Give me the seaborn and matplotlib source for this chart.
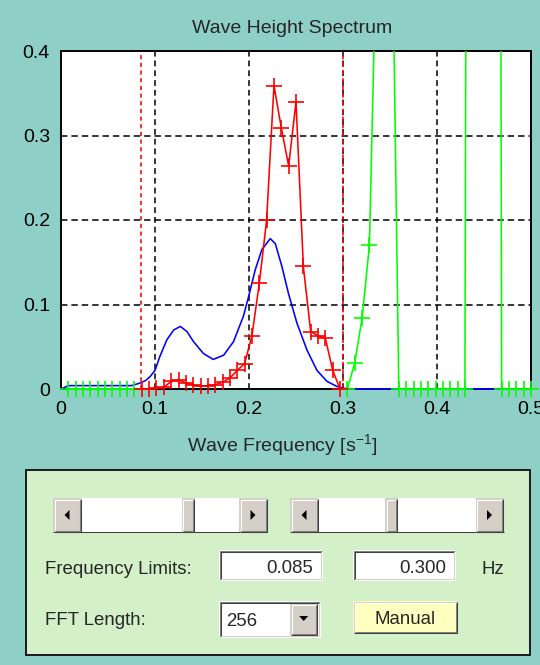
import numpy as np
import matplotlib
matplotlib.use("Agg")
import matplotlib.pyplot as plt
from matplotlib.patches import Rectangle, Polygon
import seaborn as sns

# ---------------------------------------------------------------- data ----
BIN_WIDTH = 1.0 / 128            # Hz per FFT bin
FFT_LENGTH = 256
FREQ_LIMITS = [0.085, 0.300]     # analysis band [Hz]

# smoothed spectrum (blue)
smooth_freq = [0.000, 0.008, 0.020, 0.040, 0.060, 0.075, 0.084, 0.090, 0.095,
               0.100, 0.105, 0.1125, 0.120, 0.127, 0.134, 0.141, 0.1515, 0.162,
               0.173, 0.1835, 0.194, 0.1995, 0.2066, 0.2137, 0.2226, 0.228,
               0.235, 0.242, 0.251, 0.2617, 0.2723, 0.283, 0.2936, 0.300,
               0.310, 0.500]
smooth_val = [0.000, 0.004, 0.004, 0.004, 0.004, 0.004, 0.007, 0.010, 0.015,
              0.022, 0.038, 0.058, 0.070, 0.074, 0.068, 0.056, 0.042, 0.035,
              0.040, 0.056, 0.086, 0.109, 0.141, 0.165, 0.178, 0.172,
              0.145, 0.113, 0.078, 0.046, 0.022, 0.009, 0.003, 0.001,
              0.000, 0.000]

# raw FFT bins below the band (green)
low_bins = list(range(1, 11))
low_val = [0.000, 0.000, 0.000, 0.000, 0.000, 0.000, 0.000, 0.000, 0.000, 0.000]

# raw FFT bins inside the band (red)
band_bins = list(range(11, 39))
band_val = [0.000, 0.000, 0.001, 0.002, 0.009, 0.011, 0.007, 0.005, 0.003,
            0.004, 0.005, 0.008, 0.013, 0.022, 0.030, 0.063, 0.125, 0.200,
            0.359, 0.309, 0.264, 0.340, 0.145, 0.068, 0.063, 0.060, 0.022,
            0.000]

# raw FFT bins above the band (green)
high_bins = list(range(39, 65))
high_val = [0.000, 0.031, 0.084, 0.170, 0.550, 0.950, 0.620, 0.000, 0.000,
            0.000, 0.000, 0.000, 0.000, 0.000, 0.000, 0.000, 0.000, 3.500,
            7.000, 6.000, 4.500, 0.000, 0.000, 0.000, 0.000, 0.000]

x_ticks = [0.0, 0.1, 0.2, 0.3, 0.4, 0.5]
x_tick_labels = ["0", "0.1", "0.2", "0.3", "0.4", "0.5"]
y_ticks = [0.0, 0.1, 0.2, 0.3, 0.4]
y_tick_labels = ["0", "0.1", "0.2", "0.3", "0.4"]

# -------------------------------------------------------------- style ----
TEAL = "#8ECFC8"
PANEL = "#D4F0C8"
BTN = "#D4D0C8"

sns.set_style("white")
plt.rcParams["font.family"] = ["Liberation Sans", "DejaVu Sans"]
plt.rcParams["mathtext.fontset"] = "custom"
plt.rcParams["mathtext.rm"] = "Liberation Sans"
plt.rcParams["mathtext.default"] = "regular"

fig = plt.figure(figsize=(5.4, 6.65), dpi=100, facecolor=TEAL)
W, H = 540, 665
ax = fig.add_axes([61 / W, 1 - 389 / H, 470 / W, 338 / H])
ax.set_facecolor("white")
ax.set_xlim(0, 0.5)
ax.set_ylim(0, 0.4)

# grid and band limits
for f in x_ticks[1:5]:
    ax.axvline(f, color="black", lw=1.1, ls=(0, (3.8, 2.6)), zorder=1)
for v in y_ticks[1:4]:
    ax.axhline(v, color="black", lw=1.1, ls=(0, (4.2, 2.6)), zorder=1)
for f in FREQ_LIMITS:
    ax.axvline(f, color="#FF0000", lw=1.15, ls=(0, (2.6, 2.2)), zorder=2)


def spectrum_line(freq, val, color, z):
    sns.lineplot(x=freq, y=val, color=color, lw=1.15, ax=ax, zorder=z,
                 sort=False, estimator=None)
    line = ax.lines[-1]
    clip = Rectangle((-0.01, -0.03), 0.52, 0.43, transform=ax.transData)
    line.set_clip_path(clip)


def bin_markers(freq, val, color):
    freq = np.asarray(freq)
    val = np.asarray(val)
    keep = val <= 0.4
    sns.lineplot(x=freq[keep], y=val[keep], color=color, linestyle="",
                 marker="+", markersize=11.5, markeredgewidth=1.2,
                 markeredgecolor=color, markerfacecolor=color, ax=ax,
                 zorder=6, sort=False, estimator=None, clip_on=False)


low_freq = np.array(low_bins) * BIN_WIDTH
band_freq = np.array(band_bins) * BIN_WIDTH
high_freq = np.array(high_bins) * BIN_WIDTH

spectrum_line(low_freq, low_val, "#00FF00", 3)
spectrum_line(high_freq, high_val, "#00FF00", 3)
spectrum_line(smooth_freq, smooth_val, "#0000FF", 3.5)
spectrum_line(band_freq, band_val, "#FF0000", 4)
bin_markers(low_freq, low_val, "#00FF00")
bin_markers(high_freq, high_val, "#00FF00")
bin_markers(band_freq, band_val, "#FF0000")

ax.set_xticks(x_ticks)
ax.set_xticklabels(x_tick_labels)
ax.set_yticks(y_ticks)
ax.set_yticklabels(y_tick_labels)
ax.tick_params(axis="both", length=0, labelsize=14, colors="black")
ax.tick_params(axis="x", pad=8.5)
ax.tick_params(axis="y", pad=8)
for sp in ax.spines.values():
    sp.set_visible(True)
    sp.set_color("black")
    sp.set_linewidth(1.4)
    sp.set_zorder(2.5)

ax.set_title("Wave Height Spectrum", fontsize=14, pad=12.7)
ax.title.set_x(0.491)
ax.set_xlabel("Wave Frequency [s$^{-1}$]", fontsize=14)
ax.xaxis.set_label_coords(0.471, -0.128)

# ------------------------------------------------------- control panel ----
ui = fig.add_axes([0, 0, 1, 1], zorder=-1)
ui.set_xlim(0, W)
ui.set_ylim(H, 0)
ui.axis("off")
PX = 0.72  # one pixel in points


def box(x0, y0, x1, y1, fc, ec="none", lw=0.0):
    ui.add_patch(Rectangle((x0, y0), x1 - x0, y1 - y0, facecolor=fc,
                           edgecolor=ec, linewidth=lw))


def seg(xs, ys, c):
    ui.plot(xs, ys, color=c, lw=PX * 1.05, solid_capstyle="butt")


def bevel(x0, y0, x1, y1, raised=True):
    if raised:
        tl_out, tl_in, br_in, br_out = BTN, "#FFFFFF", "#808080", "#404040"
    else:
        tl_out, tl_in, br_in, br_out = "#808080", "#404040", BTN, "#FFFFFF"
    seg([x0 + .5, x0 + .5, x1 - .5], [y1 - .5, y0 + .5, y0 + .5], tl_out)
    seg([x0 + .5, x1 - .5, x1 - .5], [y1 - .5, y1 - .5, y0 + .5], br_out)
    seg([x0 + 1.5, x0 + 1.5, x1 - 1.5], [y1 - 1.5, y0 + 1.5, y0 + 1.5], tl_in)
    seg([x0 + 1.5, x1 - 1.5, x1 - 1.5], [y1 - 1.5, y1 - 1.5, y0 + 1.5], br_in)


def button(x0, y0, x1, y1, face=BTN):
    box(x0, y0, x1, y1, face)
    bevel(x0, y0, x1, y1, raised=True)


def triangle(cx, cy, direction):
    if direction == "left":
        pts = [(cx + 2.5, cy - 5), (cx + 2.5, cy + 5), (cx - 2.5, cy)]
    elif direction == "right":
        pts = [(cx - 2.5, cy - 5), (cx - 2.5, cy + 5), (cx + 2.5, cy)]
    else:
        pts = [(cx - 4.5, cy - 2.5), (cx + 4.5, cy - 2.5), (cx, cy + 2.5)]
    ui.add_patch(Polygon(pts, closed=True, facecolor="black", edgecolor="none"))


def scrollbar(x0, x1, y0, y1, t0, t1):
    box(x0, y0, x1, y1, "white")
    seg([x0, x1], [y1 - .5, y1 - .5], "#404040")
    button(x0, y0, x0 + 28, y1)
    triangle(x0 + 14, (y0 + y1) / 2, "left")
    button(x1 - 28, y0, x1, y1)
    triangle(x1 - 14, (y0 + y1) / 2, "right")
    button(t0, y0, t1, y1)


def field(x0, y0, x1, y1, text):
    box(x0, y0, x1, y1, "white")
    bevel(x0, y0, x1, y1, raised=False)
    ui.text(x1 - 9, y0 + 23, text, fontsize=13.4, ha="right", va="baseline")


box(26, 470, 530, 655, PANEL, ec="#1A1A1A", lw=1.4)

scrollbar(53, 267, 498, 532, 181.5, 194.5)
scrollbar(290, 503.5, 498, 532, 385, 397.5)

ui.text(45, 573.5, "Frequency Limits:", fontsize=13.4, ha="left", va="baseline")
field(219, 550, 322, 580, f"{FREQ_LIMITS[0]:.3f}")
field(353, 550, 455, 580, f"{FREQ_LIMITS[1]:.3f}")
ui.text(481.5, 573.5, "Hz", fontsize=13.4, ha="left", va="baseline")

ui.text(45, 625, "FFT Length:", fontsize=13.4, ha="left", va="baseline")
box(219, 601, 320, 637, "white")
bevel(219, 601, 320, 637, raised=False)
ui.text(226, 626, str(FFT_LENGTH), fontsize=13.4, ha="left", va="baseline")
button(290, 603, 317.5, 635)
triangle(303.7, 618.5, "down")

button(353, 601, 457, 633, face="#FFFFC0")
ui.text(405, 623.5, "Manual", fontsize=13.4, ha="center", va="baseline")

fig.savefig("out.png", dpi=100, facecolor=TEAL)
